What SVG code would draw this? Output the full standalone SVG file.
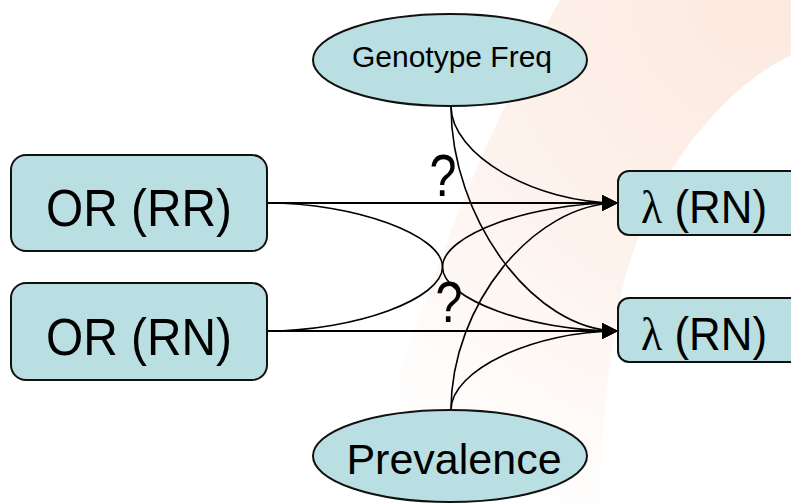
<svg xmlns="http://www.w3.org/2000/svg" width="791" height="504" viewBox="0 0 791 504">
<style>
.node{fill:#BADFE2;stroke:#111;stroke-width:2}
.t{font-family:"Liberation Sans",Arial,sans-serif;fill:#000;text-anchor:middle}
.c{fill:none;stroke:#000;stroke-width:1.6}
.s{fill:none;stroke:#000;stroke-width:2.2}
</style>
<defs>
<marker id="ah" viewBox="0 0 16 16" refX="16" refY="8" markerWidth="16" markerHeight="16" markerUnits="userSpaceOnUse" orient="auto">
<path d="M0,0 L16,8 L0,16 Z" fill="#000"/>
</marker>
<radialGradient id="bg" gradientUnits="userSpaceOnUse" cx="760" cy="0" r="560">
<stop offset="0" stop-color="#FCE9DF"/>
<stop offset="0.5" stop-color="#FDF2EC"/>
<stop offset="1" stop-color="#FFFFFF"/>
</radialGradient>
</defs>
<rect width="791" height="504" fill="#fff"/>
<path d="M560,0 L791,0 L791,55 C720,90 645,180 620,300 C608,360 602,430 600,504 L360,504 C420,300 480,140 560,0 Z" fill="url(#bg)"/>
<g id="connectors">
<path class="s" d="M267,203 L618,203" marker-end="url(#ah)"/>
<path class="s" d="M267,331 L618,331" marker-end="url(#ah)"/>
<path class="c" d="M267,203 C355,203 442.5,235 442.5,267 C442.5,299 530,331 618,331" marker-end="url(#ah)"/>
<path class="c" d="M267,331 C355,331 442.5,299 442.5,267 C442.5,235 530,203 618,203" marker-end="url(#ah)"/>
<path class="c" d="M451,106 C451,155 534,203 618,203" marker-end="url(#ah)"/>
<path class="c" d="M451,106 C451,219 534,331 618,331" marker-end="url(#ah)"/>
<path class="c" d="M451,410 C451,305 534,203 618,203" marker-end="url(#ah)"/>
<path class="c" d="M451,410 C451,370 534,331 618,331" marker-end="url(#ah)"/>
</g>
<g id="q1"><text class="t" x="443" y="196" font-size="60" textLength="27" lengthAdjust="spacingAndGlyphs">?</text></g>
<g id="q2"><text class="t" x="449" y="322" font-size="58" textLength="27" lengthAdjust="spacingAndGlyphs">?</text></g>
<g id="genotype">
<ellipse class="node" cx="450" cy="60" rx="137" ry="46"/>
<text class="t" x="452" y="67" font-size="30">Genotype Freq</text>
</g>
<g id="prevalence">
<ellipse class="node" cx="450" cy="456" rx="137" ry="46"/>
<text class="t" x="454" y="474" font-size="43">Prevalence</text>
</g>
<g id="or-rr">
<rect class="node" x="11" y="155" width="256" height="96" rx="15"/>
<text class="t" x="139" y="226" font-size="52" textLength="186" lengthAdjust="spacingAndGlyphs">OR (RR)</text>
</g>
<g id="or-rn">
<rect class="node" x="11" y="283" width="256" height="97" rx="15"/>
<text class="t" x="139" y="355" font-size="52" textLength="186" lengthAdjust="spacingAndGlyphs">OR (RN)</text>
</g>
<g id="lambda-1">
<rect class="node" x="618" y="171" width="185" height="64" rx="11"/>
<text class="t" x="704" y="223" font-size="46" textLength="126" lengthAdjust="spacingAndGlyphs"><tspan font-family="'Liberation Serif',serif">λ</tspan> (RN)</text>
</g>
<g id="lambda-2">
<rect class="node" x="618" y="298" width="185" height="64" rx="11"/>
<text class="t" x="704" y="350" font-size="46" textLength="126" lengthAdjust="spacingAndGlyphs"><tspan font-family="'Liberation Serif',serif">λ</tspan> (RN)</text>
</g>
</svg>
